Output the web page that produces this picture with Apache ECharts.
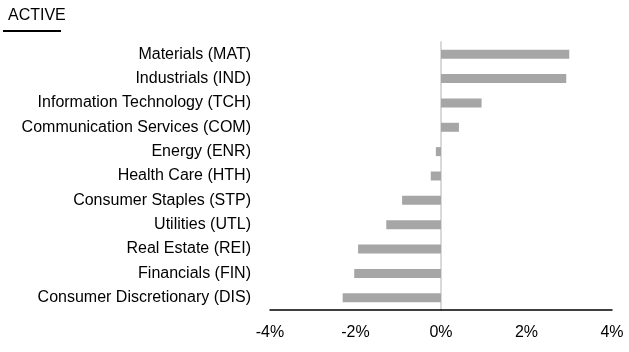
<!DOCTYPE html>
<html>
<head>
<meta charset="utf-8">
<script src="https://cdn.jsdelivr.net/npm/echarts@6/dist/echarts.min.js"></script>
<style>
  html, body { margin: 0; padding: 0; background: #fff; }
  #chart { width: 629px; height: 352px; }
</style>
</head>
<body>
<div id="chart"></div>
<script>
// sectors listed bottom -> top (category axis draws first item at bottom)
const sectors = [
  'Consumer Discretionary (DIS)',
  'Financials (FIN)',
  'Real Estate (REI)',
  'Utilities (UTL)',
  'Consumer Staples (STP)',
  'Health Care (HTH)',
  'Energy (ENR)',
  'Communication Services (COM)',
  'Information Technology (TCH)',
  'Industrials (IND)',
  'Materials (MAT)'
]
const activeWeights = [-2.30, -2.03, -1.94, -1.28, -0.91, -0.24, -0.12, 0.42, 0.95, 2.93, 3.0]
const tickValues = [-4, -2, 0, 2, 4]

const font = '"Liberation Sans", Arial, sans-serif'

const myChart = echarts.init(document.getElementById('chart'))
const option = {
  animation: false,
  title: {
    text: 'ACTIVE',
    left: 3,
    top: 3,
    textStyle: { fontFamily: font, fontSize: 16, fontWeight: 'normal', color: '#000' }
  },
  graphic: [
    { type: 'line', shape: { x1: 3, y1: 31, x2: 61, y2: 31 }, style: { stroke: '#000', lineWidth: 2 } }
  ],
  grid: { left: 270, right: 17, top: 42, bottom: 42, containLabel: false },
  xAxis: {
    type: 'value',
    min: tickValues[0],
    max: tickValues[tickValues.length - 1],
    interval: 2,
    axisLine: { show: true, lineStyle: { color: '#000', width: 1.5 } },
    axisTick: { show: false },
    splitLine: { show: false },
    axisLabel: {
      formatter: v => v + '%',
      fontFamily: font,
      fontSize: 16,
      color: '#000',
      margin: 15
    }
  },
  yAxis: {
    type: 'category',
    data: sectors,
    axisLine: { show: true, onZero: true, lineStyle: { color: '#d9d9d9', width: 2 } },
    axisTick: { show: false },
    axisLabel: {
      fontFamily: font,
      fontSize: 16,
      color: '#000',
      margin: 19
    }
  },
  series: [{
    type: 'bar',
    data: activeWeights,
    barWidth: 9,
    itemStyle: { color: '#a6a6a6' }
  }]
}
myChart.setOption(option)
</script>
</body>
</html>
